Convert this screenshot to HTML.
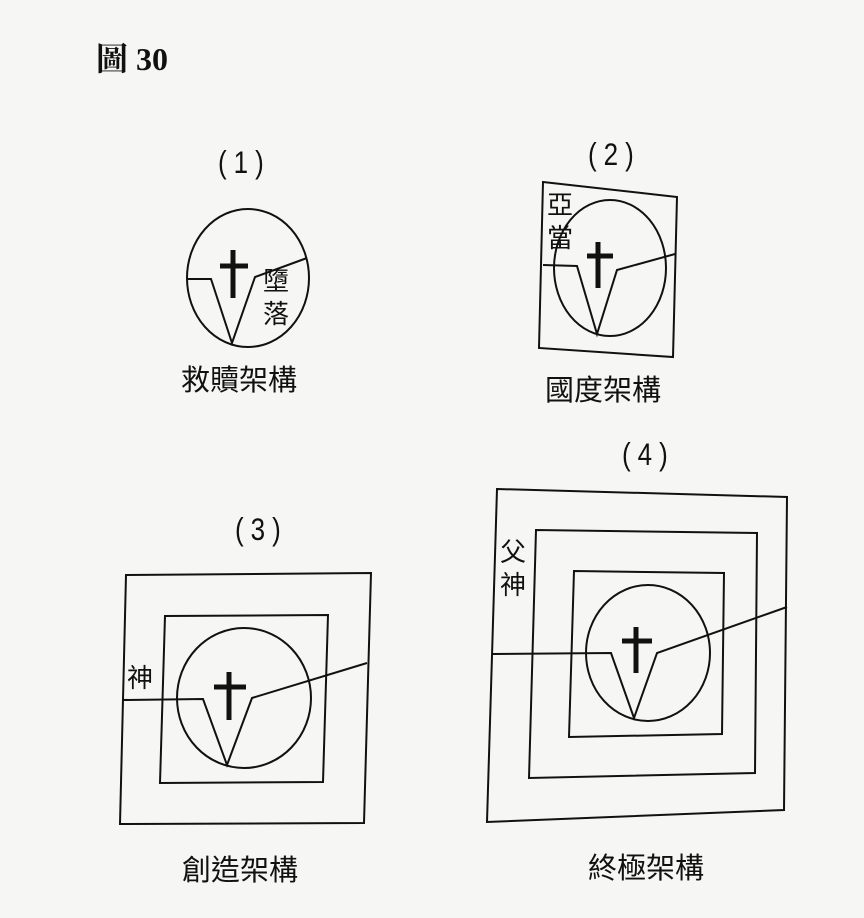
<!DOCTYPE html>
<html><head><meta charset="utf-8"><style>
html,body{margin:0;padding:0;background:#f6f6f4;}
svg{display:block}
text{font-family:"Liberation Sans","Noto Sans CJK TC",sans-serif;fill:#111}
</style></head><body>
<svg width="864" height="918" viewBox="0 0 864 918" xmlns="http://www.w3.org/2000/svg">
<rect width="864" height="918" fill="#f6f6f4"/>
<text x="96" y="70" style="font-family:'Liberation Serif','Noto Serif CJK SC',serif;font-weight:bold;font-size:32px">圖 30</text>
<g fill="none" stroke="#111" stroke-width="2">
<ellipse cx="248" cy="278" rx="61" ry="69"/>
<polyline points="187,279 211,279 232,343 255,277 307,258"/>
<polygon points="543,182 677,197 673,357 539,348"/>
<ellipse cx="610" cy="268" rx="56" ry="68"/>
<polyline points="543,265 577,266 597,334 617,270 675,254"/>
<polygon points="126,575 371,573 364,823 120,824"/>
<polygon points="165,616 328,615 323,782 160,783"/>
<ellipse cx="244" cy="698" rx="67" ry="70"/>
<polyline points="123,700 203,699 227,765 252,698 367,663"/>
<polygon points="497,489 787,497 784,810 487,822"/>
<polygon points="536,530 757,533 755,773 529,778"/>
<polygon points="574,571 724,573 722,734 569,737"/>
<ellipse cx="648" cy="653" rx="62" ry="68"/>
<polyline points="493,654 611,653 634,718 657,653 787,607"/>
</g>
<g stroke="#111" stroke-width="5" fill="none">
<line x1="233" y1="250" x2="233" y2="298"/><line x1="220" y1="266" x2="248" y2="266"/>
<line x1="598" y1="242" x2="598" y2="288"/><line x1="587" y1="256" x2="613" y2="256"/>
<line x1="229" y1="672" x2="229" y2="720"/><line x1="214" y1="687" x2="246" y2="687"/>
<line x1="636" y1="627" x2="636" y2="673"/><line x1="622" y1="641" x2="652" y2="641"/>
</g>
<g style="font-size:26px;letter-spacing:7px">
<text transform="translate(218,173) scale(1,1.2)">(1)</text>
<text transform="translate(588,165) scale(1,1.2)">(2)</text>
<text transform="translate(235,540) scale(1,1.2)">(3)</text>
<text transform="translate(622,465) scale(1,1.2)">(4)</text>
</g>
<g style="font-size:29px">
<text x="181" y="390">救贖架構</text>
<text x="545" y="400">國度架構</text>
<text x="182" y="880">創造架構</text>
<text x="588" y="878">終極架構</text>
</g>
<g style="font-size:26px">
<text x="263" y="290">墮</text><text x="263" y="323">落</text>
<text x="547" y="214">亞</text><text x="547" y="247">當</text>
<text x="127" y="687">神</text>
<text x="500" y="561">父</text><text x="500" y="594">神</text>
</g>
</svg>
</body></html>
